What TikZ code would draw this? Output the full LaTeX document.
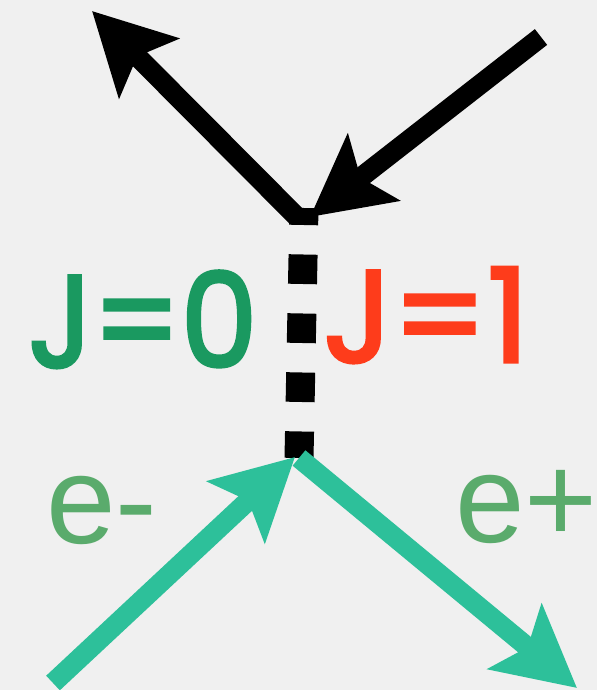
\documentclass[tikz,border=0pt]{standalone}
\usepackage{fontspec}
\usetikzlibrary{arrows.meta}
\newfontfamily\spinfont{Poppins}[FakeBold=2.5, FakeStretch=0.93]
\newfontfamily\spinwide{Poppins}[FakeBold=2.5]
\newfontfamily\leptfont{Liberation Sans}
\definecolor{paper}{HTML}{F0F0F0}
\definecolor{leptline}{HTML}{2DC09A}
\definecolor{lepttext}{HTML}{5AAB6C}
\definecolor{spinzero}{HTML}{1A9960}
\definecolor{spinone}{HTML}{FE3C1B}
\begin{document}
\begin{tikzpicture}[x=1pt, y=-1pt,
    fermion/.style={line width=20pt, -{Stealth[length=80pt, width=83pt, inset=16pt]}},
    spinlbl/.style={anchor=base west, inner sep=0pt, font=\spinfont\fontsize{131pt}{131pt}\selectfont},
    leptlbl/.style={anchor=base west, inner sep=0pt, text=lepttext, font=\leptfont\fontsize{125pt}{125pt}\selectfont}]
    \fill[paper] (0,0) rectangle (597,690);
    \useasboundingbox (0,0) rectangle (597,690);
    \coordinate (out) at (92,11);
    \coordinate (in) at (541,37);
    \coordinate (top) at (304,208);
    \coordinate (vtx) at (296,216);
    \coordinate (tip) at (310,217);
    \coordinate (bot) at (299,458);
    \coordinate (eleft) at (53,683);
    \coordinate (ein) at (295,457);
    \coordinate (eout) at (577,688);
    \draw[fermion] (vtx) -- (out);
    \draw[fermion] (in) -- (tip);
    \draw[line width=29pt, dash pattern=on 29.5pt off 29.5pt, dash phase=12.5pt] (top) -- (bot);
    \draw[fermion, leptline] (eleft) -- (ein);
    \draw[fermion, leptline] (bot) -- (eout);
    \node[spinlbl, text=spinzero] (jzero) at (28,367) {J=0};
    \node[spinlbl, text=spinone, font=\spinwide\fontsize{131pt}{131pt}\selectfont] (jone) at (323,362) {J=1};
    \node[leptlbl] (eminus) at (46,543) {e-};
    \node[leptlbl] (eplus) at (455,542) {e+};
\end{tikzpicture}
\end{document}
